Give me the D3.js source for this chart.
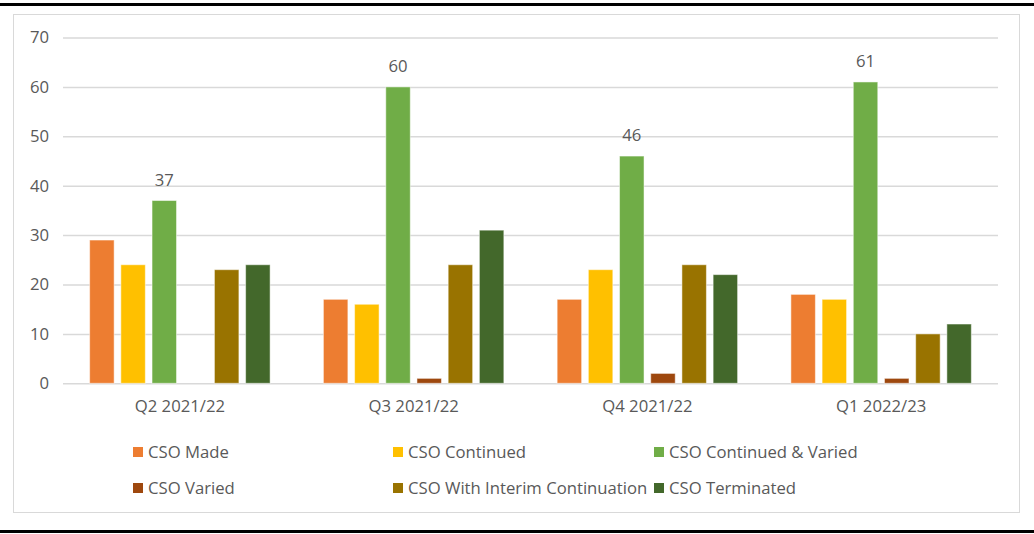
<!DOCTYPE html>
<html>
<head>
<meta charset="utf-8">
<script src="https://cdn.jsdelivr.net/npm/d3@7"></script>
<style>
  html, body { margin: 0; padding: 0; background: #fff; }
  svg { display: block; }
  text { font-family: "Open Sans", Lato, sans-serif; fill: #595959; }
</style>
</head>
<body>
<svg id="chart" width="1034" height="534"></svg>
<script>
// Quarterly CSO order counts
const quarters = ["Q2 2021/22", "Q3 2021/22", "Q4 2021/22", "Q1 2022/23"];
const seriesNames = ["CSO Made", "CSO Continued", "CSO Continued & Varied",
                     "CSO Varied", "CSO With Interim Continuation", "CSO Terminated"];
const csoMade       = [29, 17, 17, 18];
const csoContinued  = [24, 16, 23, 17];
const csoContVaried = [37, 60, 46, 61];
const csoVaried     = [0, 1, 2, 1];
const csoInterim    = [23, 24, 24, 10];
const csoTerminated = [24, 31, 22, 12];
const yTicks = [0, 10, 20, 30, 40, 50, 60, 70];
const colors = ["#ED7D31", "#FFC000", "#70AD47", "#9E480E", "#997300", "#43682B"];
const labelledSeries = "CSO Continued & Varied";

const seriesValues = [csoMade, csoContinued, csoContVaried, csoVaried, csoInterim, csoTerminated];
const rows = quarters.map((q, i) => ({
  quarter: q,
  values: seriesNames.map((s, j) => ({ series: s, value: seriesValues[j][i] }))
}));

const FONT = "'Open Sans', Lato, sans-serif";
const FS = 16.7;
const svg = d3.select("#chart");

// Frame: heavy rules top and bottom, light box around the chart area
svg.append("rect").attr("x", 0).attr("y", 3).attr("width", 1034).attr("height", 3).attr("fill", "#000");
svg.append("rect").attr("x", 0).attr("y", 530).attr("width", 1034).attr("height", 3).attr("fill", "#000");
svg.append("rect").attr("x", 13.5).attr("y", 14.5).attr("width", 1006).attr("height", 498)
  .attr("fill", "none").attr("stroke", "#d9d9d9").attr("stroke-width", 1);

const plot = { left: 63, right: 998, top: 37.5, bottom: 383.3 };

const x0 = d3.scaleBand().domain(quarters).range([plot.left, plot.right]).paddingInner(0.228).paddingOuter(0.114);
const x1 = d3.scaleBand().domain(seriesNames).range([0, x0.bandwidth()]).paddingInner(0.215);
const y = d3.scaleLinear().domain([0, 70]).range([plot.bottom, plot.top]);
const color = d3.scaleOrdinal().domain(seriesNames).range(colors);

// Gridlines and y labels
const yAxis = d3.axisLeft(y).tickValues(yTicks).tickSize(-(plot.right - plot.left)).tickPadding(14);
const gy = svg.append("g").attr("transform", `translate(${plot.left},0)`).call(yAxis);
gy.select(".domain").remove();
gy.selectAll(".tick line").attr("stroke", "#d9d9d9").attr("stroke-width", 1.5);
gy.selectAll(".tick text").attr("font-size", FS).attr("fill", "#595959").style("font-family", FONT);

// Category labels
const xAxis = d3.axisBottom(x0).tickSize(0).tickPadding(17);
const gx = svg.append("g").attr("transform", `translate(0,${plot.bottom})`).call(xAxis);
gx.select(".domain").remove();
gx.selectAll(".tick text").attr("font-size", FS).attr("fill", "#595959").style("font-family", FONT);

// Bars
const groups = svg.append("g").selectAll("g").data(rows).join("g")
  .attr("transform", d => `translate(${x0(d.quarter)},0)`);

groups.selectAll("rect").data(d => d.values.filter(v => v.value > 0)).join("rect")
  .attr("x", d => x1(d.series))
  .attr("y", d => y(d.value))
  .attr("width", x1.bandwidth())
  .attr("height", d => y(0) - y(d.value))
  .attr("fill", d => color(d.series))
  .attr("stroke", "#fff").attr("stroke-opacity", 0.5).attr("stroke-width", 1);

// Value labels on the "Continued & Varied" bars
groups.selectAll("text.val").data(d => d.values.filter(v => v.series === labelledSeries)).join("text")
  .attr("class", "val")
  .attr("x", d => x1(d.series) + x1.bandwidth() / 2)
  .attr("y", d => y(d.value) - 15)
  .attr("text-anchor", "middle")
  .attr("font-size", FS)
  .text(d => d.value);

// Legend: two rows of three
const legendX = [133, 393, 654];
const legendY = [452, 488];
const legend = svg.append("g").selectAll("g").data(seriesNames).join("g")
  .attr("transform", (d, i) => `translate(${legendX[i % 3]},${legendY[Math.floor(i / 3)]})`);
legend.append("rect").attr("x", 0).attr("y", -5).attr("width", 10).attr("height", 10)
  .attr("fill", d => color(d));
legend.append("text").attr("x", 15).attr("y", 0).attr("dy", "0.35em")
  .attr("font-size", FS).text(d => d);
</script>
</body>
</html>
